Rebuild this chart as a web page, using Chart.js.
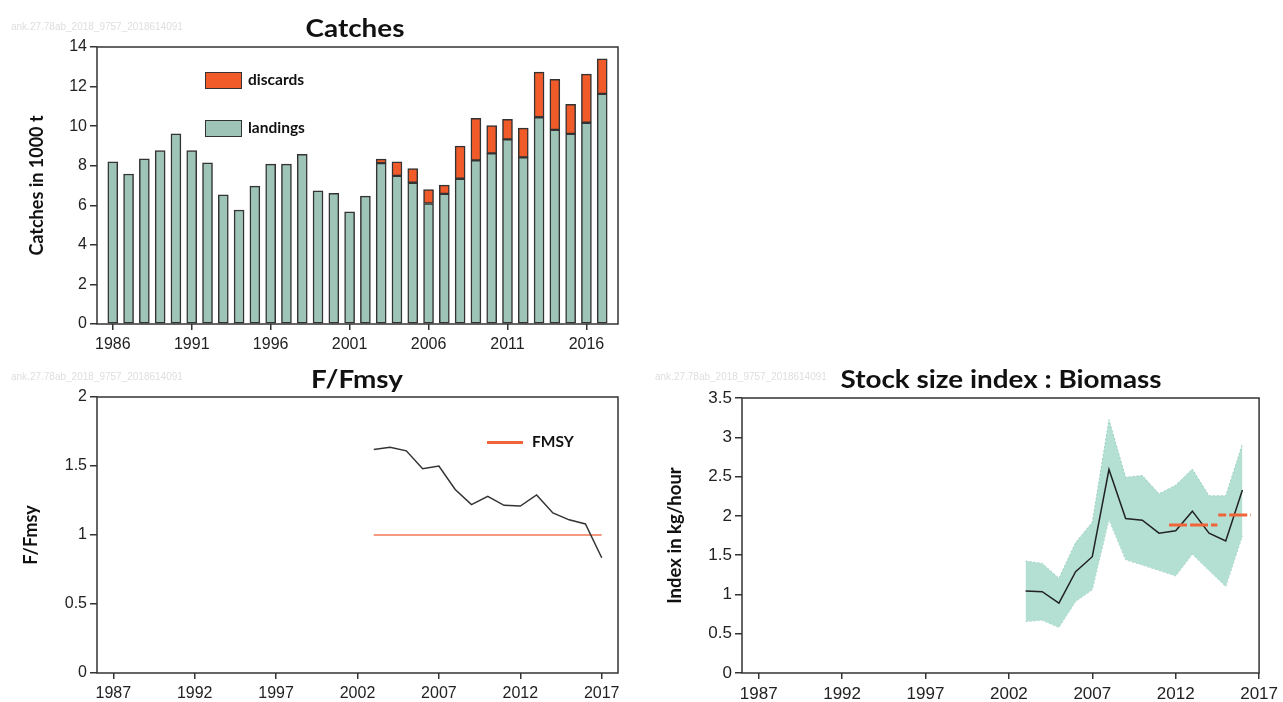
<!DOCTYPE html>
<html><head><meta charset="utf-8">
<script src="https://cdn.jsdelivr.net/npm/chart.js@4/dist/chart.umd.min.js"></script>
<style>
body{margin:0;background:#fff;width:1283px;height:702px;position:relative;overflow:hidden;font-family:'Liberation Sans',Arial,sans-serif}
canvas{position:absolute}
.t{position:absolute;font-family:Lato,'Open Sans',sans-serif;font-weight:bold;color:#111;white-space:nowrap;transform:translate(-50%,-50%) scaleX(1.16);line-height:1}
.wm{position:absolute;font-family:'Liberation Sans',Arial,sans-serif;font-size:10px;color:#dedede;white-space:nowrap;line-height:1}
.lt{position:absolute;font-family:Lato,'Open Sans',sans-serif;font-weight:bold;font-size:15.5px;color:#111;white-space:nowrap;transform:translateY(-50%);line-height:1}
.box{position:absolute;box-sizing:border-box;border:1.5px solid #333;width:37px;height:17px}
.lline{position:absolute;height:3px;background:#f0643a}
</style>
</head><body>
<canvas id="c1" width="640" height="350" style="left:0;top:0"></canvas>
<canvas id="c2" width="640" height="352" style="left:0;top:350px"></canvas>
<canvas id="c3" width="643" height="352" style="left:640px;top:350px"></canvas>

<div class="wm" style="left:11px;top:22px">ank.27.78ab_2018_9757_2018614091</div>
<div class="wm" style="left:11px;top:372px">ank.27.78ab_2018_9757_2018614091</div>
<div class="wm" style="left:655px;top:372px">ank.27.78ab_2018_9757_2018614091</div>

<div class="t" style="left:355px;top:28px;font-size:24px">Catches</div>
<div class="t" style="left:357px;top:379px;font-size:24px">F/Fmsy</div>
<div class="t" style="left:1001px;top:379px;font-size:24px">Stock size index : Biomass</div>

<div class="box" style="left:205px;top:72px;background:#f15a29"></div>
<div class="lt" style="left:248px;top:80px">discards</div>
<div class="box" style="left:205px;top:120px;background:#9ec4b8"></div>
<div class="lt" style="left:248px;top:128px">landings</div>

<div class="lline" style="left:487px;top:441px;width:36px"></div>
<div class="lt" style="left:532px;top:442px">FMSY</div>

<script>
// ---- Catches ----
const catchYears = [1986,1987,1988,1989,1990,1991,1992,1993,1994,1995,1996,1997,1998,1999,2000,2001,2002,2003,2004,2005,2006,2007,2008,2009,2010,2011,2012,2013,2014,2015,2016,2017];
const landings = [8.2,7.58,8.35,8.77,9.61,8.77,8.15,6.53,5.76,6.97,8.08,8.08,8.57,6.73,6.6,5.67,6.46,8.13,7.49,7.14,6.09,6.58,7.34,8.27,8.62,9.33,8.42,10.45,9.81,9.61,10.17,11.63];
const discards = [null,null,null,null,null,null,null,null,null,null,null,null,null,null,null,null,null,0.2,0.71,0.72,0.71,0.44,1.65,2.12,1.41,1.01,1.48,2.28,2.55,1.49,2.46,1.77];
const catchTicksX = [1986,1991,1996,2001,2006,2011,2016];
const catchTicksY = [0,2,4,6,8,10,12,14];

// ---- F/Fmsy ----
const fYears = [2003,2004,2005,2006,2007,2008,2009,2010,2011,2012,2013,2014,2015,2016,2017];
const fRatio = [1.62,1.635,1.61,1.48,1.50,1.33,1.22,1.28,1.215,1.21,1.29,1.16,1.11,1.08,0.835];
const fmsyYears = [2003,2017];
const fmsyValue = [1,1];
const fTicksX = [1987,1992,1997,2002,2007,2012,2017];
const fTicksY = [0,0.5,1,1.5,2];

// ---- Biomass index ----
const bYears = [2003,2004,2005,2006,2007,2008,2009,2010,2011,2012,2013,2014,2015,2016];
const bMean  = [1.045,1.035,0.89,1.29,1.48,2.59,1.965,1.945,1.78,1.81,2.06,1.78,1.68,2.33];
const bUpper = [1.425,1.395,1.205,1.66,1.92,3.225,2.49,2.515,2.28,2.39,2.595,2.255,2.255,2.915];
const bLower = [0.655,0.67,0.58,0.91,1.06,1.95,1.44,1.375,1.305,1.235,1.51,1.305,1.10,1.745];
const refAYears = [2011.6,2014.5];
const refAValue = [1.885,1.885];
const refBYears = [2014.55,2016.5];
const refBValue = [2.01,2.01];
const bTicksX = [1987,1992,1997,2002,2007,2012,2017];
const bTicksY = [0,0.5,1,1.5,2,2.5,3,3.5];

Chart.defaults.font.family = "'Liberation Sans', Arial, sans-serif";
Chart.defaults.color = '#222';
Chart.defaults.animation = false;

const pts = (xs, ys) => xs.map((x, i) => ({x: x, y: ys[i]}));

const boxPlugin = {id: 'box', afterDraw(c) {
  const a = c.chartArea, ctx = c.ctx;
  ctx.save(); ctx.strokeStyle = '#333'; ctx.lineWidth = 1.5;
  ctx.strokeRect(a.left, a.top, a.right - a.left, a.bottom - a.top);
  ctx.restore();
}};

function xAxis(min, max, ticks, h, fs, stacked) {
  return {type: 'linear', min: min, max: max, stacked: !!stacked, offset: false,
    afterBuildTicks: s => { s.ticks = ticks.map(v => ({value: v})); },
    afterFit: s => { s.height = h; },
    grid: {display: true, offset: false, drawOnChartArea: false, drawTicks: true, tickLength: 6, color: '#333', lineWidth: 1.5},
    border: {display: false},
    ticks: {font: {size: fs}, padding: 5, maxRotation: 0, autoSkip: false, callback: v => String(v)}
  };
}
function yAxis(min, max, ticks, w, fs, title, tfs, tpad, stacked) {
  return {type: 'linear', min: min, max: max, stacked: !!stacked,
    afterBuildTicks: s => { s.ticks = ticks.map(v => ({value: v})); },
    afterFit: s => { s.width = w; },
    grid: {display: true, drawOnChartArea: false, drawTicks: true, tickLength: 7, color: '#333', lineWidth: 1.5},
    border: {display: false},
    ticks: {font: {size: fs}, padding: 3, autoSkip: false, callback: v => String(v)},
    title: {display: true, text: title, color: '#111', font: {family: "Lato, 'Open Sans', sans-serif", weight: 'bold', size: tfs}, padding: {top: tpad, bottom: 0}}
  };
}

new Chart(document.getElementById('c1'), {
  type: 'bar',
  data: {datasets: [
    {label: 'landings', data: pts(catchYears, landings), backgroundColor: '#9ec4b8', borderColor: '#333', borderWidth: 1.5, borderSkipped: false, barThickness: 10},
    {label: 'discards', data: pts(catchYears, discards), backgroundColor: '#f15a29', borderColor: '#333', borderWidth: 1.5, borderSkipped: false, barThickness: 10}
  ]},
  options: {responsive: false, devicePixelRatio: 1,
    layout: {padding: {left: 0, top: 47, right: 22, bottom: 0}},
    plugins: {legend: {display: false}, tooltip: {enabled: false}},
    scales: {x: xAxis(1985, 2018, catchTicksX, 26, 16, true), y: yAxis(0, 14, catchTicksY, 97, 16, 'Catches in 1000 t', 18, 26, true)}
  },
  plugins: [boxPlugin]
});

new Chart(document.getElementById('c2'), {
  type: 'line',
  data: {datasets: [
    {label: 'F/Fmsy', data: pts(fYears, fRatio), borderColor: '#333', borderWidth: 1.5, pointRadius: 0, fill: false, tension: 0, order: 0},
    {label: 'FMSY', data: pts(fmsyYears, fmsyValue), borderColor: 'rgba(240,100,58,0.65)', borderWidth: 2, pointRadius: 0, fill: false, order: 1}
  ]},
  options: {responsive: false, devicePixelRatio: 1,
    layout: {padding: {left: 0, top: 47, right: 22, bottom: 0}},
    plugins: {legend: {display: false}, tooltip: {enabled: false}},
    scales: {x: xAxis(1986, 2018, fTicksX, 29, 16), y: yAxis(0, 2, fTicksY, 97, 16, 'F/Fmsy', 18, 20)}
  },
  plugins: [boxPlugin]
});

new Chart(document.getElementById('c3'), {
  type: 'line',
  data: {datasets: [
    {label: 'lower', data: pts(bYears, bLower), borderColor: 'rgba(140,200,180,0.8)', borderWidth: 1, borderDash: [2, 2], pointRadius: 0, fill: false, order: 10},
    {label: 'upper', data: pts(bYears, bUpper), borderColor: 'rgba(140,200,180,0.8)', borderWidth: 1, borderDash: [2, 2], pointRadius: 0, fill: '-1', backgroundColor: '#b4e0d4', order: 9},
    {label: 'index', data: pts(bYears, bMean), borderColor: '#222', borderWidth: 1.5, pointRadius: 0, fill: false, order: 1},
    {label: 'ref A', data: pts(refAYears, refAValue), borderColor: '#f0643a', borderWidth: 3, borderDash: [18, 3], pointRadius: 0, fill: false, order: 0},
    {label: 'ref B', data: pts(refBYears, refBValue), borderColor: '#f0643a', borderWidth: 3, borderDash: [8, 3, 18, 3], pointRadius: 0, fill: false, order: 0}
  ]},
  options: {responsive: false, devicePixelRatio: 1,
    layout: {padding: {left: 0, top: 48, right: 20, bottom: 0}},
    plugins: {legend: {display: false}, tooltip: {enabled: false}, filler: {propagate: false}},
    scales: {x: xAxis(1986, 2017, bTicksX, 29, 17), y: yAxis(0, 3.5, bTicksY, 102, 17, 'Index in kg/hour', 18.5, 24)}
  },
  plugins: [boxPlugin]
});
</script>
</body></html>
